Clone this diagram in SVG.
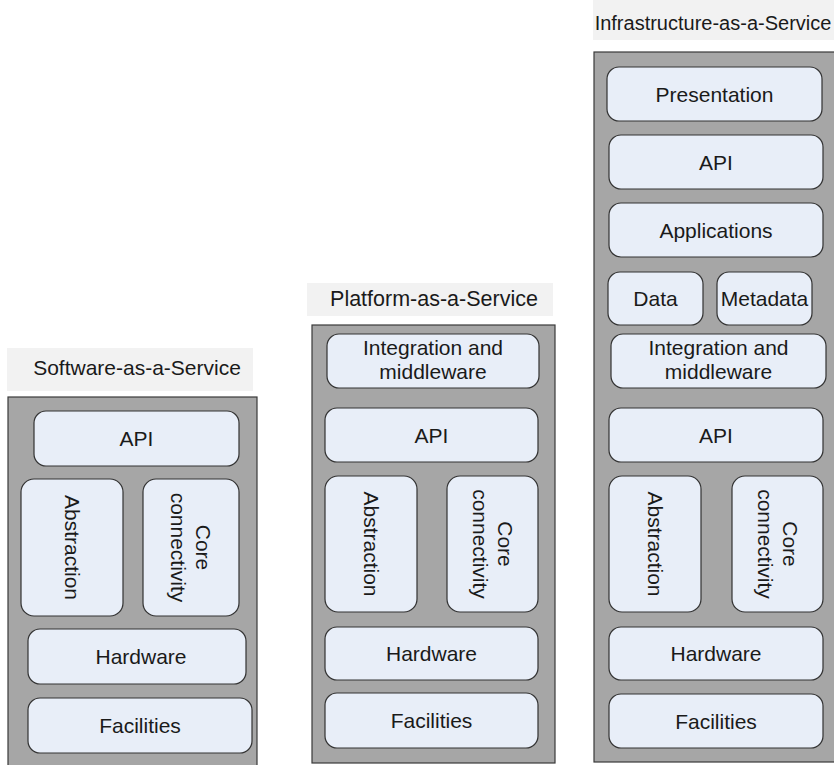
<svg xmlns="http://www.w3.org/2000/svg" width="834" height="765" viewBox="0 0 834 765">
<style>
.bg{fill:#ffffff}
.title{fill:#f2f2f2;stroke:none}
.panel{fill:#a6a6a6;stroke:#3a3a3a;stroke-width:1.2}
.box{fill:#e8eef8;stroke:#333333;stroke-width:1.2}
text{font-family:"Liberation Sans",Arial,sans-serif;font-size:21px;fill:#1a1a1a;text-anchor:middle}
.tt{font-size:21px}
.tp{font-size:21.5px}
.ti{font-size:20px}
</style>
<rect class="bg" x="0" y="0" width="834" height="765"/>
<g id="saas">
<rect class="title" x="7" y="348" width="246" height="43"/>
<text class="tt" x="137" y="375">Software-as-a-Service</text>
<rect class="panel" x="8" y="397" width="249" height="370"/>
</g>
<g id="saas-api"><rect class="box" x="34" y="411" width="205" height="55" rx="12"/><text x="136.5" y="446">API</text></g>
<g id="saas-abstraction"><rect class="box" x="21" y="479" width="102" height="137" rx="13"/><text transform="translate(72,547.5) rotate(90)" x="0" y="7">Abstraction</text></g>
<g id="saas-core"><rect class="box" x="143" y="479" width="96" height="137" rx="13"/><text transform="translate(191,547.5) rotate(90)" x="0" y="-5">Core</text><text transform="translate(191,547.5) rotate(90)" x="0" y="20">connectivity</text></g>
<g id="saas-hardware"><rect class="box" x="28" y="629" width="218" height="55" rx="12"/><text x="141" y="664">Hardware</text></g>
<g id="saas-facilities"><rect class="box" x="28" y="698" width="224" height="55" rx="12"/><text x="140" y="733">Facilities</text></g>

<g id="paas">
<rect class="title" x="307" y="283" width="246" height="33"/>
<text class="tp" x="434" y="306">Platform-as-a-Service</text>
<rect class="panel" x="312" y="325" width="243" height="438"/>
</g>
<g id="paas-integration"><rect class="box" x="327" y="334" width="212" height="54" rx="12"/><text x="433" y="355">Integration and</text><text x="433" y="379">middleware</text></g>
<g id="paas-api"><rect class="box" x="325" y="408" width="213" height="54" rx="12"/><text x="431.5" y="442.5">API</text></g>
<g id="paas-abstraction"><rect class="box" x="325" y="476" width="92" height="136" rx="13"/><text transform="translate(371,544) rotate(90)" x="0" y="7">Abstraction</text></g>
<g id="paas-core"><rect class="box" x="447" y="476" width="91" height="136" rx="13"/><text transform="translate(492.5,544) rotate(90)" x="0" y="-5">Core</text><text transform="translate(492.5,544) rotate(90)" x="0" y="20">connectivity</text></g>
<g id="paas-hardware"><rect class="box" x="325" y="627" width="213" height="53" rx="12"/><text x="431.5" y="661">Hardware</text></g>
<g id="paas-facilities"><rect class="box" x="325" y="693" width="213" height="55" rx="12"/><text x="431.5" y="728">Facilities</text></g>

<g id="iaas">
<rect class="title" x="593" y="0" width="241" height="40"/>
<text class="ti" x="713" y="30">Infrastructure-as-a-Service</text>
<rect class="panel" x="594" y="52" width="242" height="710"/>
</g>
<g id="iaas-presentation"><rect class="box" x="607" y="67" width="215" height="54" rx="12"/><text x="714.5" y="101.5">Presentation</text></g>
<g id="iaas-api-top"><rect class="box" x="609" y="135" width="214" height="54" rx="12"/><text x="716" y="169.5">API</text></g>
<g id="iaas-applications"><rect class="box" x="609" y="203" width="214" height="54" rx="12"/><text x="716" y="237.5">Applications</text></g>
<g id="iaas-data"><rect class="box" x="608" y="272" width="95" height="53" rx="12"/><text x="655.5" y="306">Data</text></g>
<g id="iaas-metadata"><rect class="box" x="717" y="272" width="95" height="53" rx="12"/><text x="764.5" y="306">Metadata</text></g>
<g id="iaas-integration"><rect class="box" x="611" y="334" width="215" height="54" rx="12"/><text x="718.5" y="355">Integration and</text><text x="718.5" y="379">middleware</text></g>
<g id="iaas-api"><rect class="box" x="609" y="408" width="214" height="54" rx="12"/><text x="716" y="442.5">API</text></g>
<g id="iaas-abstraction"><rect class="box" x="609" y="476" width="92" height="136" rx="13"/><text transform="translate(655,544) rotate(90)" x="0" y="7">Abstraction</text></g>
<g id="iaas-core"><rect class="box" x="732" y="476" width="91" height="136" rx="13"/><text transform="translate(777.5,544) rotate(90)" x="0" y="-5">Core</text><text transform="translate(777.5,544) rotate(90)" x="0" y="20">connectivity</text></g>
<g id="iaas-hardware"><rect class="box" x="609" y="627" width="214" height="53" rx="12"/><text x="716" y="661">Hardware</text></g>
<g id="iaas-facilities"><rect class="box" x="609" y="694" width="214" height="54" rx="12"/><text x="716" y="728.5">Facilities</text></g>

<g id="connectors"></g>
</svg>
